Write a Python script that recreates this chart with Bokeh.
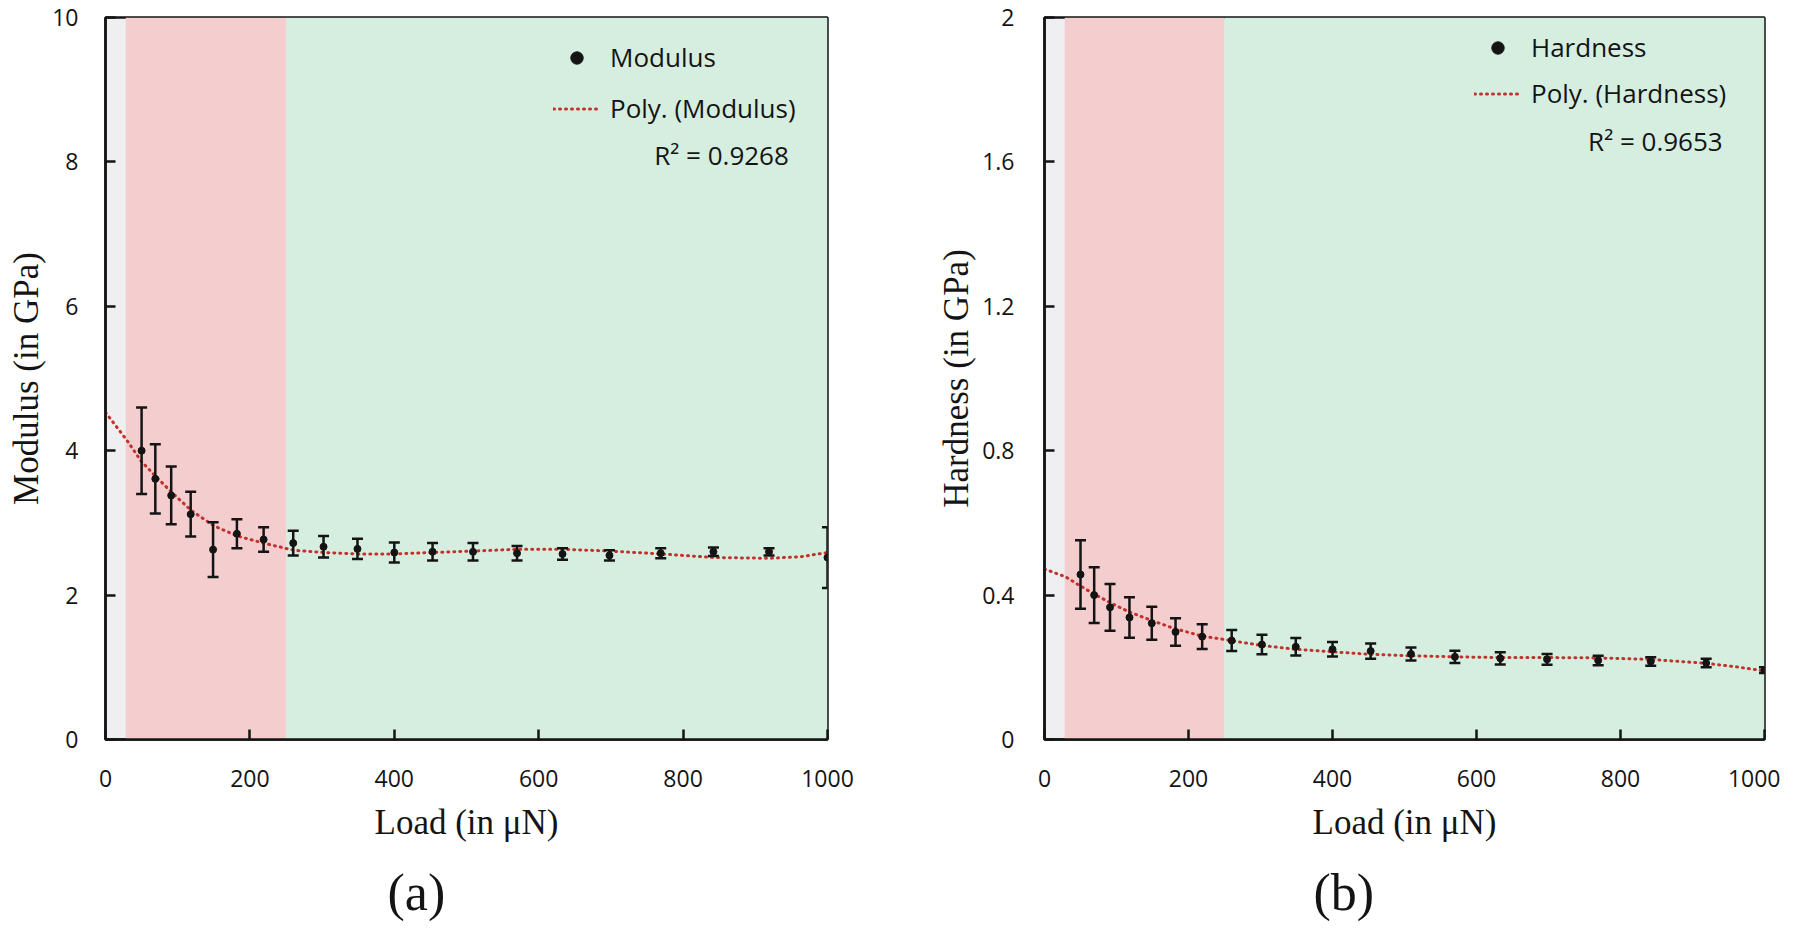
import numpy as np
from bokeh.plotting import figure
from bokeh.models import (ColumnDataSource, Whisker, TeeHead, BoxAnnotation, Legend,
                          LegendItem, Label, Title, FixedTicker, NumeralTickFormatter, Range1d)
from bokeh.layouts import row
from bokeh.embed import file_html
from bokeh.resources import INLINE

# ---------------- data ----------------
load = [50, 69, 91, 118, 149, 182, 219, 260, 302, 349, 400, 453, 509, 570, 633, 698, 769, 842, 919, 1000]
modulus = [4.00, 3.61, 3.38, 3.12, 2.63, 2.85, 2.77, 2.72, 2.67, 2.64, 2.59, 2.60, 2.60, 2.58, 2.57,
           2.55, 2.58, 2.60, 2.60, 2.52]
modulus_err = [0.60, 0.48, 0.40, 0.31, 0.38, 0.20, 0.17, 0.17, 0.15, 0.14, 0.14, 0.12, 0.12, 0.10,
               0.08, 0.07, 0.07, 0.06, 0.05, 0.42]
hardness = [0.457, 0.400, 0.366, 0.338, 0.322, 0.298, 0.285, 0.274, 0.263, 0.257, 0.250, 0.245,
            0.237, 0.229, 0.225, 0.222, 0.219, 0.216, 0.212, 0.192]
hardness_err = [0.095, 0.077, 0.065, 0.056, 0.046, 0.038, 0.034, 0.029, 0.027, 0.024, 0.020, 0.021,
                0.018, 0.017, 0.017, 0.015, 0.013, 0.012, 0.012, 0.008]

# polynomial trendlines
mod_trend_x = [0, 30, 49, 69, 92, 119, 150, 182, 219, 261, 303, 350, 401, 453, 510, 570, 634, 698,
               770, 843, 919, 962, 1000]
mod_trend_y = [4.53, 4.14, 3.86, 3.65, 3.42, 3.17, 2.96, 2.82, 2.72, 2.62, 2.59, 2.57, 2.57, 2.59,
               2.61, 2.635, 2.635, 2.61, 2.57, 2.52, 2.51, 2.53, 2.59]
hard_trend_x = [0, 29, 50, 69, 91, 117, 147, 181, 218, 259, 300, 348, 399, 452, 508, 569, 632, 698,
                767, 841, 919, 960, 1000]
hard_trend_y = [0.472, 0.451, 0.425, 0.403, 0.379, 0.354, 0.331, 0.307, 0.287, 0.274, 0.261, 0.250,
                0.243, 0.236, 0.232, 0.229, 0.227, 0.227, 0.226, 0.222, 0.211, 0.2015, 0.190]

band_edges = [0, 28, 250, 1000]
band_colors = ["#efeff1", "#f4cdce", "#d6eee0"]

x_ticks = [0, 200, 400, 600, 800, 1000]
mod_ticks = [0, 2, 4, 6, 8, 10]
hard_ticks = [0, 0.4, 0.8, 1.2, 1.6, 2]

series_names = ["Modulus", "Hardness"]
r2_labels = ["R\u00b2 = 0.9268", "R\u00b2 = 0.9653"]
y_titles = ["Modulus (in GPa)", "Hardness (in GPa)"]
x_title = "Load (in \u03bcN)"
captions = ["(a)", "(b)"]

TICK_FONT = "Open Sans"
SERIF = "Liberation Serif"
INK = "#141414"
TREND = "#c0322b"


def make_panel(values, errors, tx, ty, yticks, ymax, name, r2, ytitle, caption, cfg):
    p = figure(width=cfg["width"], height=cfg["height"], output_backend="svg",
               toolbar_location=None, title=None,
               x_range=Range1d(0, 1000), y_range=Range1d(0, ymax),
               min_border_left=cfg["bl"], min_border_right=cfg["br"],
               min_border_top=cfg["bt"], min_border_bottom=cfg["bb"])
    p.background_fill_color = band_colors[0]
    p.border_fill_color = "white"
    p.outline_line_color = INK
    p.outline_line_width = 2.5
    p.grid.visible = False

    for i in range(1, len(band_colors)):
        p.add_layout(BoxAnnotation(left=band_edges[i], right=band_edges[i + 1],
                                   fill_color=band_colors[i], fill_alpha=1.0,
                                   line_alpha=0, level="underlay"))

    y = np.array(values, dtype=float)
    e = np.array(errors, dtype=float)
    src = ColumnDataSource(dict(x=load, y=values, upper=list(y + e), lower=list(y - e)))

    trend = p.line(tx, ty, line_color=TREND, line_width=3, line_dash="1 5", line_cap="round")

    wh = Whisker(base="x", upper="upper", lower="lower", source=src,
                 line_color=INK, line_width=2.5, level="glyph",
                 upper_head=TeeHead(size=11, line_color=INK, line_width=2.5),
                 lower_head=TeeHead(size=11, line_color=INK, line_width=2.5))
    p.add_layout(wh)
    pts = p.scatter("x", "y", source=src, size=7, fill_color=INK, line_color=INK)

    for ax in (p.xaxis[0], p.yaxis[0]):
        ax.axis_line_color = INK
        ax.axis_line_width = 2.5
        ax.major_tick_line_color = INK
        ax.major_tick_line_width = 2.5
        ax.major_tick_in = 10
        ax.major_tick_out = 0
        ax.minor_tick_line_color = None
        ax.major_label_text_font = TICK_FONT
        ax.major_label_text_font_size = "23px"
        ax.major_label_text_color = INK
        ax.axis_label_text_font = SERIF
        ax.axis_label_text_font_style = "normal"
        ax.axis_label_text_font_size = "35px"
        ax.axis_label_text_color = INK
    p.xaxis.ticker = FixedTicker(ticks=x_ticks)
    p.yaxis.ticker = FixedTicker(ticks=yticks)
    p.yaxis.formatter = NumeralTickFormatter(format="0.[0]")
    p.xaxis.axis_label = x_title
    p.yaxis.axis_label = ytitle
    p.xaxis.major_label_standoff = 30
    p.xaxis.axis_label_standoff = 13
    p.yaxis.major_label_standoff = cfg["ystand"]
    p.yaxis.axis_label_standoff = 3

    leg = Legend(items=[LegendItem(label=name, renderers=[pts]),
                        LegendItem(label="Poly. (" + name + ")", renderers=[trend])],
                 location=cfg["legloc"], orientation="vertical",
                 background_fill_alpha=0, border_line_alpha=0, padding=0, margin=0,
                 spacing=cfg["legspace"], glyph_width=47, glyph_height=31, label_height=31,
                 label_standoff=10, label_text_font=TICK_FONT, label_text_font_size="26px",
                 label_text_color=INK)
    p.add_layout(leg)

    p.add_layout(Label(x=cfg["r2pos"][0], y=cfg["r2pos"][1], text=r2, text_font=TICK_FONT,
                       text_font_size="26px", text_color=INK, text_baseline="middle",
                       text_align="left"))

    # spacer, then the panel caption below the x-axis title
    p.add_layout(Title(text=" ", text_font_size="1px", standoff=14), "below")
    p.add_layout(Title(text=caption, align="left", offset=cfg["capoff"], standoff=0,
                       text_font=SERIF, text_font_size="52px", text_font_style="normal",
                       text_color=INK), "below")
    return p


H = 930
cfg_a = dict(width=870, height=H, bl=105, br=43, bt=17, bb=191,
             ystand=27, legloc=(448, 613), legspace=15, r2pos=(760, 8.1), capoff=282)
cfg_b = dict(width=910, height=H, bl=174, br=16, bt=17, bb=191,
             ystand=30, legloc=(430, 628), legspace=10, r2pos=(755, 1.658), capoff=269)

pa = make_panel(modulus, modulus_err, mod_trend_x, mod_trend_y, mod_ticks, 10, series_names[0],
                r2_labels[0], y_titles[0], captions[0], cfg_a)
pb = make_panel(hardness, hardness_err, hard_trend_x, hard_trend_y, hard_ticks, 2, series_names[1],
                r2_labels[1], y_titles[1], captions[1], cfg_b)

layout = row(pa, pb)
open("out.html", "w").write(file_html(layout, INLINE))
